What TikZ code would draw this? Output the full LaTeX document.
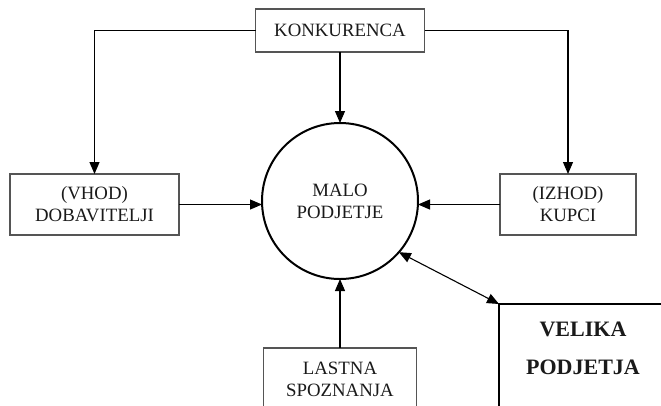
\documentclass[tikz,border=0pt]{standalone}
\usepackage{fontspec}
\setmainfont{Liberation Serif}
\usetikzlibrary{arrows.meta}
\definecolor{ink}{HTML}{1A1A1A}
\definecolor{frame}{HTML}{555555}
\begin{document}
\begin{tikzpicture}[x=1pt,y=-1pt,
  every node/.style={inner sep=0pt, outer sep=0pt, text=ink,
    font=\fontsize{18.8}{22}\selectfont, align=center},
  box/.style={draw=frame, line width=1.2pt, rectangle},
  hub/.style={draw=black, line width=2pt, circle, minimum size=156pt},
  bigbox/.style={draw=black, line width=2.5pt, rectangle},
  flow/.style={draw=black, line width=1.1pt, -{Triangle[length=12pt,width=10pt]}},
  biflow/.style={draw=black, line width=1.1pt,
    {Triangle[length=12pt,width=10pt]}-{Triangle[length=12pt,width=10pt]}},
  bigtext/.style={font=\fontsize{22}{38}\selectfont\bfseries}
]
\useasboundingbox (0,0) rectangle (661,405);
\fill[white] (0,0) rectangle (661,405);
\begin{scope}
\clip (0,0) rectangle (661,405);

% boxes and the central circle
\node[box, minimum width=169pt, minimum height=43pt] (konk) at (340,30.5) {KONKURENCA};
\node[box, minimum width=169pt, minimum height=61pt] (dob) at (94.5,204.5) {(VHOD)\\DOBAVITELJI};
\node[box, minimum width=136pt, minimum height=61pt] (kup) at (568,204.5) {(IZHOD)\\KUPCI};
\node[hub] (malo) at (340,201) {MALO\\PODJETJE};
\node[box, minimum width=153pt, minimum height=62pt] (last) at (340,379) {LASTNA\\SPOZNANJA};
\node[bigbox, anchor=north west, minimum width=168pt, minimum height=140pt] (velika) at (499,304) {};
\node[bigtext] (velikatxt) at (583,348) {VELIKA\\PODJETJA};

% connectors
\draw[flow] (konk.west) -| (dob.north);
\draw[flow] (konk.east) -| (kup.north);
\draw[flow] (konk.south) -- (malo.north);
\draw[flow] (dob.east) -- (malo.west |- dob.east);
\draw[flow] (kup.west) -- (malo.east |- kup.east);
\draw[flow] (last.north) -- (malo.south);
\draw[biflow] (malo.-41) -- (velika.north west);
\end{scope}
\end{tikzpicture}
\end{document}
